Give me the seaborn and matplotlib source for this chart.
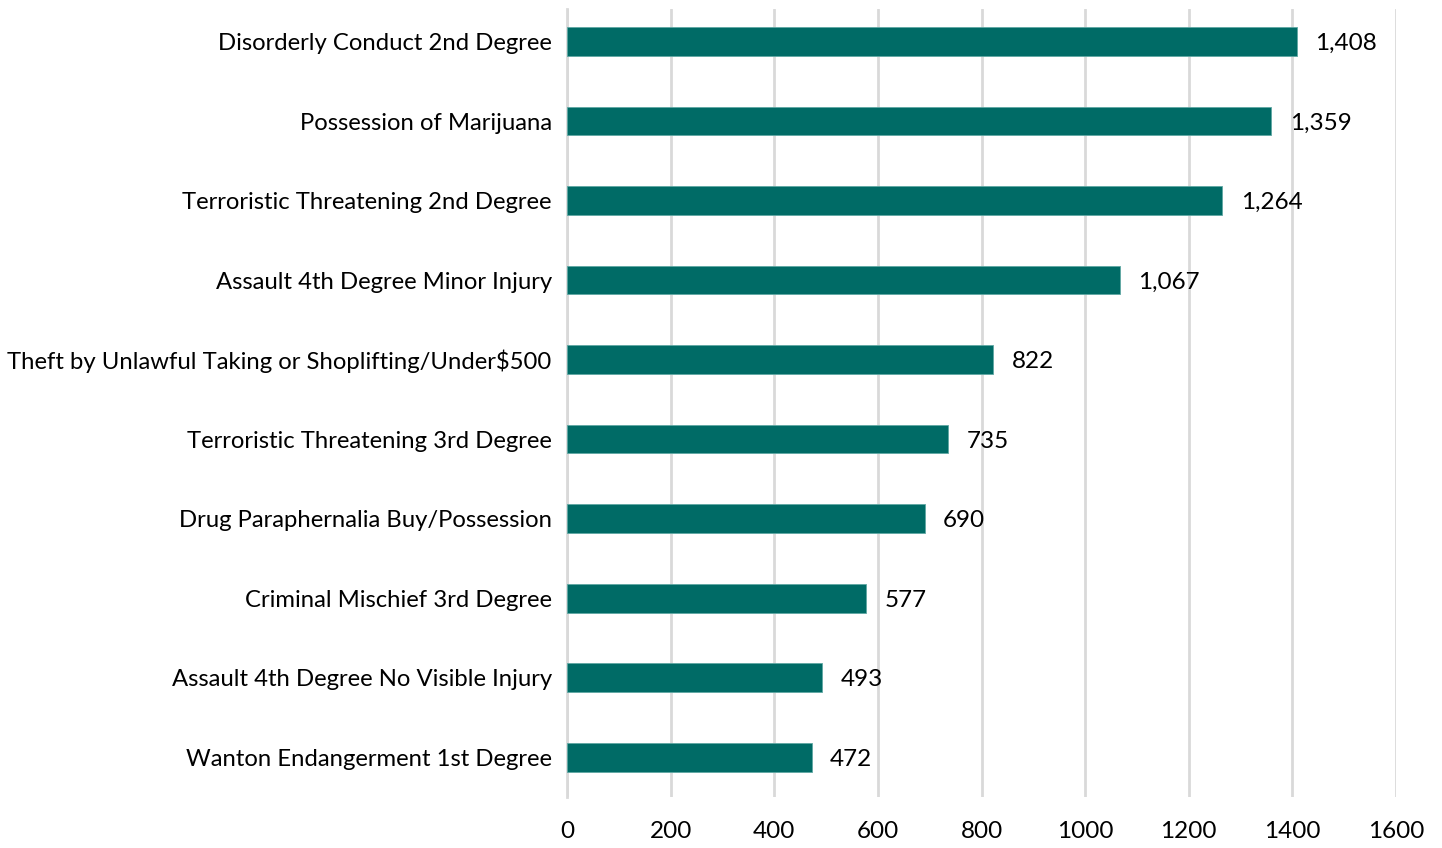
import pandas as pd
import matplotlib.pyplot as plt
import seaborn as sns

# Data
offenses = [
    'Disorderly Conduct 2nd Degree',
    'Possession of Marijuana',
    'Terroristic Threatening 2nd Degree',
    'Assault 4th Degree Minor Injury',
    'Theft by Unlawful Taking or Shoplifting/Under$500',
    'Terroristic Threatening 3rd Degree',
    'Drug Paraphernalia Buy/Possession',
    'Criminal Mischief 3rd Degree',
    'Assault 4th Degree No Visible Injury',
    'Wanton Endangerment 1st Degree',
]
counts = [1408, 1359, 1264, 1067, 822, 735, 690, 577, 493, 472]
x_ticks = [0, 200, 400, 600, 800, 1000, 1200, 1400, 1600]

df = pd.DataFrame({'Offense': offenses, 'Count': counts})

sns.set_theme(style='white')
plt.rcParams['font.family'] = ['Lato', 'DejaVu Sans']

fig = plt.figure(figsize=(14.42, 8.48), dpi=100)
ax = fig.add_axes([567 / 1442, 1 - 797 / 848, (1396 - 567) / 1442, (797 - 9) / 848])

sns.barplot(data=df, x='Count', y='Offense', color='#006B66', saturation=1,
            width=0.36, edgecolor='#5fa7a3', linewidth=0.6, ax=ax, zorder=3)

# Value labels
for i, v in enumerate(counts):
    ax.text(v + 36, i, f'{v:,}', va='center_baseline', ha='left', fontsize=17.5, color='black')

ax.set_xlim(0, 1600)
ax.set_ylim(len(offenses) - 0.5, -0.41)
ax.set_xticks(x_ticks)
ax.set_xticklabels([str(t) for t in x_ticks])
ax.xaxis.grid(True, color='#d9d9d9', linewidth=2, zorder=0)
ax.yaxis.grid(False)
for s in ['top', 'right', 'bottom']:
    ax.spines[s].set_visible(False)
ax.spines['left'].set_color('#d9d9d9')
ax.spines['left'].set_linewidth(2)
ax.set_xlabel('')
ax.set_ylabel('')
ax.tick_params(axis='y', length=0, pad=11, labelsize=17.2, labelcolor='black')
ax.tick_params(axis='x', length=0, pad=17, labelsize=17.5, labelcolor='black')

fig.savefig('out.png', dpi=100)
